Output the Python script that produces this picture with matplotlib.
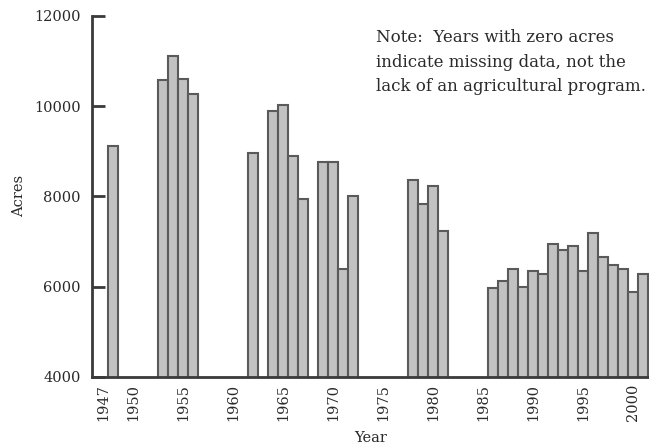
import matplotlib
matplotlib.use("Agg")
import matplotlib.pyplot as plt
import numpy as np

# Annual acreage; zero marks a year with no recorded data
years = list(range(1947, 2002))
acres = [
    0, 9110, 0, 0, 0, 0, 10570, 11110, 10600, 10270,   # 1947-1956
    0, 0, 0, 0, 0, 8970, 0, 9900, 10020, 8900,         # 1957-1966
    7950, 0, 8770, 8770, 6400, 8000, 0, 0, 0, 0,       # 1967-1976
    0, 8360, 7840, 8230, 7230, 0, 0, 0, 0, 5970,       # 1977-1986
    6120, 6400, 5990, 6340, 6290, 6940, 6820, 6900, 6350, 7190,  # 1987-1996
    6650, 6480, 6400, 5880, 6290,                      # 1997-2001
]
xtick_years = [1947, 1950, 1955, 1960, 1965, 1970, 1975, 1980, 1985, 1990, 1995, 2000]
ytick_vals = [4000, 6000, 8000, 10000, 12000]
note = ("Note:  Years with zero acres\n"
        "indicate missing data, not the\n"
        "lack of an agricultural program.")

plt.rcParams['font.family'] = ['DejaVu Serif']
text_color = '#2a2a2a'
axis_color = '#3a3a3a'

fig = plt.figure(figsize=(6.49, 4.47), dpi=100)
ax = fig.add_axes([92 / 649, 1 - 377 / 447, 1 - 92 / 649, (377 - 15.7) / 447])

ax.bar(years, acres, width=1.0, color='#c2c2c2', edgecolor='#5a5a5a',
       linewidth=1.5, zorder=2)

ax.set_xlim(1945.9, 2001.6)
ax.set_ylim(4000, 12000)

ax.set_yticks(ytick_vals)
ax.set_yticklabels([str(v) for v in ytick_vals])
ax.set_xticks(xtick_years)
ax.set_xticklabels([str(y) for y in xtick_years], rotation=90)

ax.tick_params(axis='y', direction='in', length=9, width=2, color=axis_color,
               labelsize=10.5, labelcolor=text_color, pad=8)
ax.tick_params(axis='x', direction='in', length=0, labelsize=10.5,
               labelcolor=text_color, pad=5)

for side in ('top', 'right'):
    ax.spines[side].set_visible(False)
for side in ('left', 'bottom'):
    ax.spines[side].set_color(axis_color)
    ax.spines[side].set_linewidth(2)
    ax.spines[side].set_zorder(3)

ax.set_ylabel('Acres', fontsize=10.5, color=text_color, labelpad=6)
ax.set_xlabel('Year', fontsize=10.5, color=text_color, labelpad=7)

fig.text(376 / 649, 1 - 29 / 447, note, fontsize=12, color=text_color,
         ha='left', va='top', linespacing=1.58)

fig.savefig('out.png', dpi=100)
